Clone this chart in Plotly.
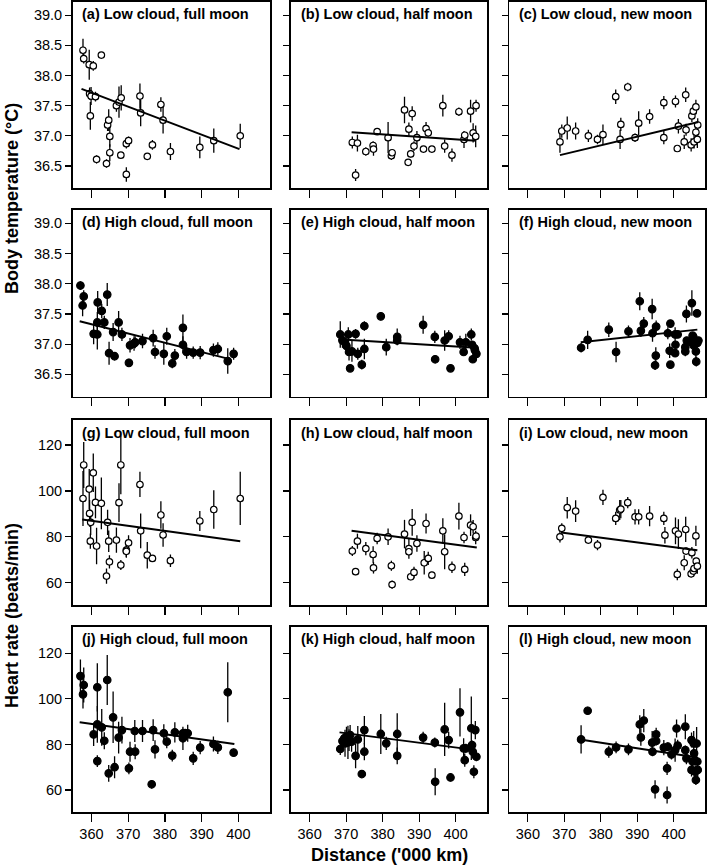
import plotly.graph_objects as go

W, H = 709, 867

# ---------------- data ----------------
titles = ["(a) Low cloud, full moon", "(b) Low cloud, half moon", "(c) Low cloud, new moon",
          "(d) High cloud, full moon", "(e) High cloud, half moon", "(f) High cloud, new moon",
          "(g) Low cloud, full moon", "(h) Low cloud, half moon", "(i) Low cloud, new moon",
          "(j) High cloud, full moon", "(k) High cloud, half moon", "(l) High cloud, new moon"]

x_ticks = [360, 370, 380, 390, 400]
temp_ticks = [36.5, 37.0, 37.5, 38.0, 38.5, 39.0]
hr_ticks = [60, 80, 100, 120]

a_x = [357.7, 357.9, 359.4, 360.5, 362.7, 359.5, 359.9, 361.1, 359.7, 361.4, 364.1, 364.4, 364.7, 365.0, 365.0, 366.8,
       367.5, 368.1, 368.0, 369.5, 369.5, 370.1, 373.2, 373.4, 375.2, 376.6, 378.9, 379.5, 381.5, 389.5, 393.3, 400.5]
a_y = [38.42, 38.28, 38.18, 38.16, 38.34, 37.70, 37.66, 37.65, 37.33, 36.61, 36.54, 37.18, 37.26, 36.99, 36.72, 37.50,
       37.56, 37.63, 36.68, 36.36, 36.87, 36.92, 37.66, 37.38, 36.66, 36.85, 37.52, 37.26, 36.74, 36.81, 36.92, 37.00]
a_e = [0.19, 0.08, 0.25, 0.08, 0.05, 0.10, 0.15, 0.08, 0.23, 0.07, 0.07, 0.10, 0.18, 0.17, 0.14, 0.10,
       0.26, 0.21, 0.05, 0.12, 0.08, 0.07, 0.21, 0.22, 0.05, 0.08, 0.12, 0.22, 0.14, 0.18, 0.20, 0.20]

b_x = [371.7, 373.1, 372.6, 375.4, 377.4, 377.5, 378.5, 381.5, 382.4, 382.6, 386.0, 387.2, 388.1, 387.0, 387.7, 388.6,
       389.4, 391.9, 392.5, 391.2, 393.5, 396.5, 397.0, 399.0, 400.9, 402.3, 402.5, 404.1, 404.8, 405.5, 405.6]
b_y = [36.89, 36.88, 36.35, 36.74, 36.84, 36.78, 37.07, 36.97, 36.67, 36.72, 37.43, 37.11, 37.37, 36.56, 36.70, 36.83,
       36.97, 37.12, 37.05, 36.78, 36.78, 37.50, 36.83, 36.68, 37.40, 36.94, 37.01, 37.41, 37.05, 36.99, 37.50]
b_e = [0.10, 0.14, 0.10, 0.07, 0.07, 0.11, 0.05, 0.26, 0.07, 0.05, 0.22, 0.11, 0.12, 0.05, 0.06, 0.08,
       0.11, 0.11, 0.06, 0.05, 0.05, 0.18, 0.11, 0.11, 0.07, 0.14, 0.06, 0.19, 0.16, 0.18, 0.10]

c_x = [368.8, 369.3, 370.8, 373.1, 376.6, 379.1, 380.6, 384.1, 385.5, 385.3, 387.4, 389.4, 390.4, 393.4, 397.3, 397.3,
       400.5, 401.0, 401.3, 402.9, 403.3, 403.4, 405.0, 405.4, 406.1, 404.8, 405.6, 406.1, 406.5, 406.6]
c_y = [36.90, 37.08, 37.13, 37.08, 37.00, 36.94, 37.02, 37.65, 37.19, 36.94, 37.81, 36.97, 37.21, 37.32, 37.55, 36.97,
       37.57, 36.79, 37.16, 36.90, 37.68, 37.10, 37.33, 37.41, 37.48, 36.85, 36.90, 37.06, 36.94, 37.18]
c_e = [0.18, 0.11, 0.19, 0.14, 0.10, 0.08, 0.17, 0.12, 0.11, 0.16, 0.07, 0.07, 0.20, 0.12, 0.11, 0.11,
       0.10, 0.04, 0.12, 0.12, 0.12, 0.10, 0.10, 0.06, 0.12, 0.11, 0.11, 0.11, 0.14, 0.11]

d_x = [357.0, 357.9, 357.6, 360.6, 361.6, 361.6, 361.7, 362.8, 363.5, 364.3, 364.8, 365.9, 366.3, 367.4, 368.3, 370.2,
       370.5, 371.6, 371.9, 373.9, 376.8, 377.3, 379.7, 380.5, 382.0, 382.7, 384.9, 384.9, 385.9, 387.7, 389.6, 393.2,
       394.4, 397.1, 398.7]
d_y = [37.97, 37.79, 37.64, 37.17, 37.16, 37.36, 37.69, 37.55, 37.36, 37.82, 36.85, 37.20, 36.80, 37.36, 37.16, 36.69,
       36.98, 37.01, 37.03, 37.05, 37.10, 36.87, 36.84, 37.13, 36.68, 36.81, 37.27, 36.99, 36.87, 36.86, 36.86, 36.90,
       36.92, 36.72, 36.84]
d_e = [0.07, 0.10, 0.18, 0.17, 0.25, 0.17, 0.19, 0.12, 0.11, 0.19, 0.19, 0.15, 0.07, 0.19, 0.11, 0.07,
       0.12, 0.12, 0.10, 0.12, 0.14, 0.11, 0.18, 0.14, 0.08, 0.11, 0.22, 0.14, 0.11, 0.10, 0.11, 0.11,
       0.11, 0.21, 0.10]

e_x = [368.4, 369.0, 369.7, 370.1, 370.6, 370.8, 371.1, 371.6, 372.6, 373.2, 374.3, 375.0, 375.0, 379.5, 381.0, 384.0,
       384.0, 391.1, 394.3, 394.4, 397.0, 398.1, 398.6, 401.2, 402.2, 402.8, 404.3, 404.5, 404.7, 405.2, 405.7, 405.3]
e_y = [37.16, 37.06, 37.03, 36.97, 37.16, 36.87, 36.60, 36.88, 37.17, 36.84, 36.66, 36.92, 37.30, 37.46, 36.95, 37.12,
       37.06, 37.32, 37.12, 36.75, 37.06, 37.13, 36.60, 37.03, 36.87, 37.03, 37.16, 36.99, 36.75, 36.93, 36.84, 36.90]
e_e = [0.22, 0.12, 0.08, 0.12, 0.12, 0.14, 0.05, 0.17, 0.08, 0.10, 0.08, 0.17, 0.08, 0.07, 0.14, 0.14,
       0.06, 0.15, 0.10, 0.07, 0.17, 0.10, 0.05, 0.11, 0.06, 0.14, 0.10, 0.06, 0.06, 0.11, 0.06, 0.06]

f_x = [374.6, 376.4, 382.2, 384.2, 387.6, 390.7, 391.0, 391.8, 394.1, 394.2, 395.2, 395.1, 394.9, 398.4, 399.1, 399.1,
       398.9, 400.4, 400.4, 400.5, 401.1, 403.2, 403.2, 403.5, 403.6, 405.0, 404.9, 405.2, 405.5, 405.6, 406.1, 406.2,
       406.4, 406.5, 406.8, 405.4]
f_y = [36.94, 37.07, 37.24, 36.87, 37.21, 37.71, 37.22, 37.34, 37.58, 37.18, 37.29, 36.81, 36.65, 37.18, 37.34, 36.66,
       36.89, 36.85, 37.16, 36.99, 37.16, 36.95, 36.88, 37.50, 37.06, 37.68, 37.03, 37.14, 36.98, 37.06, 36.88, 36.71,
       37.51, 37.02, 37.06, 37.12]
f_e = [0.08, 0.15, 0.12, 0.17, 0.10, 0.15, 0.10, 0.11, 0.17, 0.14, 0.10, 0.14, 0.08, 0.10, 0.06, 0.06,
       0.12, 0.06, 0.12, 0.06, 0.06, 0.15, 0.06, 0.14, 0.06, 0.21, 0.06, 0.06, 0.06, 0.06, 0.14, 0.08,
       0.06, 0.08, 0.06, 0.06]

g_x = [357.7, 357.9, 359.4, 359.5, 359.8, 359.7, 360.5, 361.1, 361.4, 362.7, 364.1, 364.4, 364.7, 364.9, 366.8, 367.5,
       368.0, 368.0, 369.5, 369.5, 370.1, 373.2, 373.4, 375.2, 376.6, 378.9, 379.5, 381.5, 389.5, 393.3, 400.5]
g_y = [96.7, 111.3, 100.8, 90.2, 86.3, 78.1, 107.9, 95.0, 76.0, 94.6, 62.9, 86.3, 78.1, 69.1, 78.6, 94.9,
       111.3, 67.7, 74.2, 73.7, 77.4, 102.8, 82.6, 72.0, 70.6, 89.5, 80.8, 69.6, 86.9, 91.9, 96.7]
g_e = [12.0, 10.0, 8.7, 5.8, 5.5, 3.3, 8.4, 6.9, 8.0, 11.3, 3.3, 5.5, 4.7, 2.9, 5.5, 8.4,
       12.7, 2.2, 3.3, 2.5, 3.3, 5.5, 7.6, 5.8, 1.5, 6.0, 5.1, 2.7, 4.4, 8.4, 11.6]

h_x = [371.7, 373.1, 372.6, 375.4, 377.4, 377.5, 378.5, 381.5, 382.4, 382.6, 386.0, 387.2, 388.1, 387.2, 387.7, 388.6,
       389.4, 391.9, 391.4, 392.5, 393.5, 396.5, 397.0, 399.0, 400.9, 402.3, 402.5, 404.1, 404.8, 405.5, 405.6]
h_y = [73.8, 78.1, 64.8, 74.9, 72.3, 66.5, 79.3, 80.0, 67.4, 59.2, 81.2, 74.9, 86.3, 73.5, 62.6, 64.5,
       77.1, 85.8, 68.7, 70.6, 63.3, 82.6, 73.5, 66.7, 89.0, 79.7, 65.8, 85.1, 84.4, 79.7, 80.3]
h_e = [2.2, 3.3, 1.5, 2.9, 3.6, 2.5, 2.5, 3.6, 2.2, 1.8, 6.2, 4.4, 5.8, 1.5, 1.5, 2.5,
       3.6, 4.4, 5.1, 2.9, 1.5, 5.5, 7.6, 2.5, 5.8, 2.5, 2.9, 4.7, 2.9, 2.9, 1.5]

i_x = [368.8, 369.3, 370.8, 373.1, 376.6, 379.1, 380.6, 384.1, 385.2, 385.5, 387.4, 389.4, 390.4, 393.4, 397.3, 397.6,
       400.5, 401.3, 401.0, 403.3, 403.4, 402.9, 405.0, 404.8, 405.4, 405.6, 406.1, 406.2, 406.5]
i_y = [80.0, 83.7, 92.7, 91.2, 78.6, 76.4, 97.2, 88.0, 91.7, 92.1, 94.9, 88.7, 88.7, 89.0, 88.0, 80.7,
       82.6, 81.2, 63.6, 83.2, 73.8, 68.7, 73.1, 63.9, 65.1, 66.2, 80.4, 69.4, 67.2]
i_e = [2.5, 2.2, 4.7, 4.7, 1.5, 2.2, 3.3, 2.9, 4.4, 4.0, 2.5, 3.3, 3.3, 4.4, 2.9, 3.6,
       5.8, 6.5, 2.5, 5.5, 1.5, 3.3, 2.5, 1.5, 1.5, 1.5, 4.4, 1.5, 3.3]

j_x = [357.0, 357.9, 357.7, 360.6, 361.6, 361.6, 361.6, 362.8, 363.5, 364.3, 364.7, 365.9, 366.3, 367.4, 368.3, 370.2,
       370.5, 371.8, 371.9, 373.9, 376.4, 376.8, 377.3, 379.7, 380.5, 382.0, 382.7, 384.9, 384.9, 385.5, 386.2, 387.7,
       389.6, 393.2, 394.4, 397.1, 398.7]
j_y = [110.0, 106.1, 102.0, 84.4, 105.1, 72.7, 88.8, 87.5, 81.6, 108.3, 67.3, 91.9, 70.0, 83.0, 86.3, 69.5,
       76.8, 85.9, 76.8, 85.9, 62.5, 86.3, 77.8, 84.9, 81.2, 75.1, 85.3, 82.7, 84.9, 84.9, 84.9, 73.9,
       78.6, 80.2, 78.7, 102.9, 76.4]
j_e = [7.3, 7.7, 6.2, 5.1, 10.6, 2.6, 8.1, 8.1, 3.7, 11.0, 3.7, 11.3, 4.8, 7.0, 5.9, 2.6,
       4.4, 4.8, 3.3, 4.8, 1.8, 4.8, 4.0, 4.0, 2.9, 2.6, 4.4, 5.1, 2.0, 2.0, 3.7, 2.9,
       2.9, 3.3, 2.9, 13.2, 1.8]

k_x = [368.4, 369.0, 369.5, 369.7, 370.1, 370.5, 370.8, 371.1, 371.5, 372.6, 373.2, 374.3, 375.0, 375.0, 379.5, 381.0,
       384.0, 384.0, 391.1, 394.3, 394.4, 397.0, 398.1, 398.6, 401.2, 402.2, 402.8, 402.5, 404.3, 404.5, 404.7, 405.0,
       405.4, 405.7]
k_y = [78.0, 81.5, 82.7, 80.5, 83.4, 80.9, 81.9, 84.1, 81.2, 75.0, 82.2, 67.0, 86.3, 76.8, 84.6, 80.5,
       84.6, 75.0, 83.0, 80.8, 63.6, 86.6, 81.9, 65.5, 94.1, 78.3, 78.3, 73.1, 87.1, 79.7, 76.8, 68.0,
       86.3, 74.6]
k_e = [2.6, 1.5, 2.0, 5.9, 4.4, 7.3, 4.8, 4.4, 4.4, 5.5, 5.9, 1.5, 6.2, 3.7, 8.8, 2.9,
       9.1, 3.7, 2.6, 2.2, 5.9, 11.7, 3.7, 1.8, 10.6, 4.4, 2.0, 2.9, 13.9, 2.0, 2.9, 2.9,
       4.0, 2.0]

l_x = [374.6, 376.4, 382.2, 384.2, 387.6, 390.7, 391.0, 391.8, 394.1, 394.2, 395.2, 395.2, 394.9, 397.3, 398.2, 398.2,
       398.4, 399.4, 400.4, 400.8, 401.1, 403.2, 403.2, 403.5, 404.9, 404.9, 405.2, 405.5, 405.6, 405.9, 406.1, 406.3,
       406.5, 406.6]
l_y = [82.2, 94.8, 76.8, 78.7, 77.8, 88.8, 83.1, 90.5, 80.8, 76.8, 84.4, 81.5, 60.3, 78.6, 69.5, 57.8,
       79.0, 75.6, 77.5, 87.0, 79.5, 87.8, 77.5, 73.9, 81.9, 68.8, 72.5, 80.4, 76.1, 68.0, 64.4, 80.4,
       72.5, 68.8]
l_e = [6.2, 1.8, 2.6, 2.6, 2.6, 4.0, 3.7, 5.1, 5.1, 2.0, 2.9, 2.0, 4.0, 3.3, 2.9, 3.7,
       2.0, 2.2, 5.1, 4.0, 2.6, 5.5, 2.0, 2.6, 3.3, 2.9, 2.0, 5.5, 2.0, 2.9, 2.2, 7.3,
       2.0, 2.9]

# regression line end points (x0, x1), (y0, y1)
reg_x = [(357.3, 400.3), (371.5, 405.6), (368.8, 406.8),
         (356.8, 397.1), (367.9, 405.6), (374.5, 406.5),
         (357.5, 400.5), (371.5, 405.8), (369.1, 406.5),
         (356.8, 398.9), (368.2, 405.6), (374.3, 406.5)]
reg_y = [(37.78, 36.78), (37.06, 36.92), (36.68, 37.23),
         (37.38, 36.76), (37.08, 36.94), (37.03, 37.24),
         (87.6, 78.1), (82.6, 75.4), (81.9, 74.2),
         (89.7, 80.2), (85.3, 77.5), (82.2, 74.3)]

panels = [(a_x, a_y, a_e), (b_x, b_y, b_e), (c_x, c_y, c_e),
          (d_x, d_y, d_e), (e_x, e_y, e_e), (f_x, f_y, f_e),
          (g_x, g_y, g_e), (h_x, h_y, h_e), (i_x, i_y, i_e),
          (j_x, j_y, j_e), (k_x, k_y, k_e), (l_x, l_y, l_e)]

# ---------------- layout geometry (pixels) ----------------
col_px = [(72.7, 270.0), (291.0, 487.0), (509.3, 705.0)]
row_px = [(2.0, 188.3), (210.0, 396.7), (420.0, 605.0), (626.7, 812.3)]
row_ranges = [[36.13, 39.22], [36.13, 39.22], [50.3, 130.9], [50.2, 131.7]]

FONT = "Liberation Sans, Arial, sans-serif"

fig = go.Figure()
layout = dict(width=W, height=H, margin=dict(l=0, r=0, t=0, b=0),
              paper_bgcolor="white", plot_bgcolor="white", showlegend=False,
              font=dict(family=FONT, size=14, color="black"))
annotations = []

for idx, (px_, py_, pe_) in enumerate(panels):
    r, c = divmod(idx, 3)
    n = idx + 1
    xa = "x" if n == 1 else f"x{n}"
    ya = "y" if n == 1 else f"y{n}"
    xkey = "xaxis" if n == 1 else f"xaxis{n}"
    ykey = "yaxis" if n == 1 else f"yaxis{n}"
    x0, x1 = col_px[c]
    y0, y1 = row_px[r]
    layout[xkey] = dict(domain=[x0 / W, x1 / W], anchor=ya, range=[354.9, 408.6],
                        tickvals=x_ticks, ticks="outside", ticklen=8, tickwidth=1.2,
                        tickcolor="black", showline=True, linecolor="black", linewidth=1.6,
                        mirror=True, showgrid=False, zeroline=False,
                        showticklabels=(r == 3), tickfont=dict(size=14.5, family=FONT, color="black"))
    layout[ykey] = dict(domain=[1 - y1 / H, 1 - y0 / H], anchor=xa, range=row_ranges[r],
                        tickvals=temp_ticks if r < 2 else hr_ticks,
                        tickformat=".1f" if r < 2 else "d",
                        ticks="outside", ticklen=6, tickwidth=1.2, tickcolor="black",
                        showline=True, linecolor="black", linewidth=1.6, mirror=True,
                        showgrid=False, zeroline=False,
                        showticklabels=(c == 0), tickfont=dict(size=14.5, family=FONT, color="black"))
    filled = (r % 2 == 1)
    fig.add_trace(go.Scatter(
        x=px_, y=py_, xaxis=xa, yaxis=ya, mode="markers",
        error_y=dict(type="data", array=pe_, visible=True, color="black", thickness=1.3, width=0),
        marker=dict(size=6.5 if not filled else 7.5, color="black" if filled else "white",
                    line=dict(color="black", width=1.2)),
        hoverinfo="skip"))
    fig.add_trace(go.Scatter(
        x=list(reg_x[idx]), y=list(reg_y[idx]), xaxis=xa, yaxis=ya, mode="lines",
        line=dict(color="black", width=2), hoverinfo="skip"))
    annotations.append(dict(
        text=titles[idx], xref=f"{xa} domain", yref=f"{ya} domain",
        x=7.5 / (x1 - x0), y=1 - 12.5 / (y1 - y0), xanchor="left", yanchor="middle",
        showarrow=False, font=dict(family=FONT, size=14.5, color="black", weight="bold")))

annotations.append(dict(text="Body temperature (°C)", xref="paper", yref="paper",
                        x=12 / W, y=1 - 199 / H, textangle=-90, showarrow=False,
                        xanchor="center", yanchor="middle",
                        font=dict(family=FONT, size=18, color="black", weight="bold")))
annotations.append(dict(text="Heart rate (beats/min)", xref="paper", yref="paper",
                        x=12 / W, y=1 - 616 / H, textangle=-90, showarrow=False,
                        xanchor="center", yanchor="middle",
                        font=dict(family=FONT, size=18, color="black", weight="bold")))
annotations.append(dict(text="Distance ('000 km)", xref="paper", yref="paper",
                        x=389 / W, y=1 - 855 / H, showarrow=False,
                        xanchor="center", yanchor="middle",
                        font=dict(family=FONT, size=18, color="black", weight="bold")))
layout["annotations"] = annotations
fig.update_layout(**layout)

fig.write_html("out.html", config={"displayModeBar": False, "staticPlot": True},
               post_script="document.body.style.margin='0';document.body.style.padding='0';"
                           "document.body.style.overflow='hidden';")
